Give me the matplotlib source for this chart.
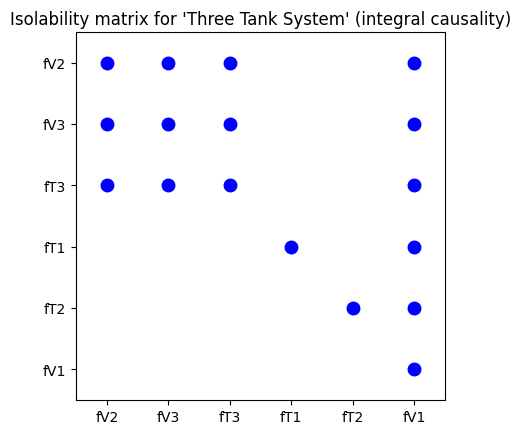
import numpy as np
import matplotlib
matplotlib.use('Agg')
import matplotlib.pyplot as plt

fault_labels = ['fV2', 'fV3', 'fT3', 'fT1', 'fT2', 'fV1']

# isolability matrix: row i, column j
im = np.array([
    [1, 1, 1, 0, 0, 1],
    [1, 1, 1, 0, 0, 1],
    [1, 1, 1, 0, 0, 1],
    [0, 0, 0, 1, 0, 1],
    [0, 0, 0, 0, 1, 1],
    [0, 0, 0, 0, 0, 1],
])

fig = plt.figure(figsize=(5.21, 4.35), dpi=100)
ax = fig.add_axes([0.1459, 0.0782, 0.7083, 0.846])

rows, cols = np.nonzero(im)
ax.plot(cols, rows, 'o', color='b', markersize=9, linestyle='none')

ax.set_xlim(-0.5, len(fault_labels) - 0.5)
ax.set_ylim(len(fault_labels) - 0.5, -0.5)
ax.set_xticks(range(len(fault_labels)))
ax.set_xticklabels(fault_labels)
ax.set_yticks(range(len(fault_labels)))
ax.set_yticklabels(fault_labels)
ax.set_title("Isolability matrix for 'Three Tank System' (integral causality)")

fig.savefig('out.png', dpi=100)
